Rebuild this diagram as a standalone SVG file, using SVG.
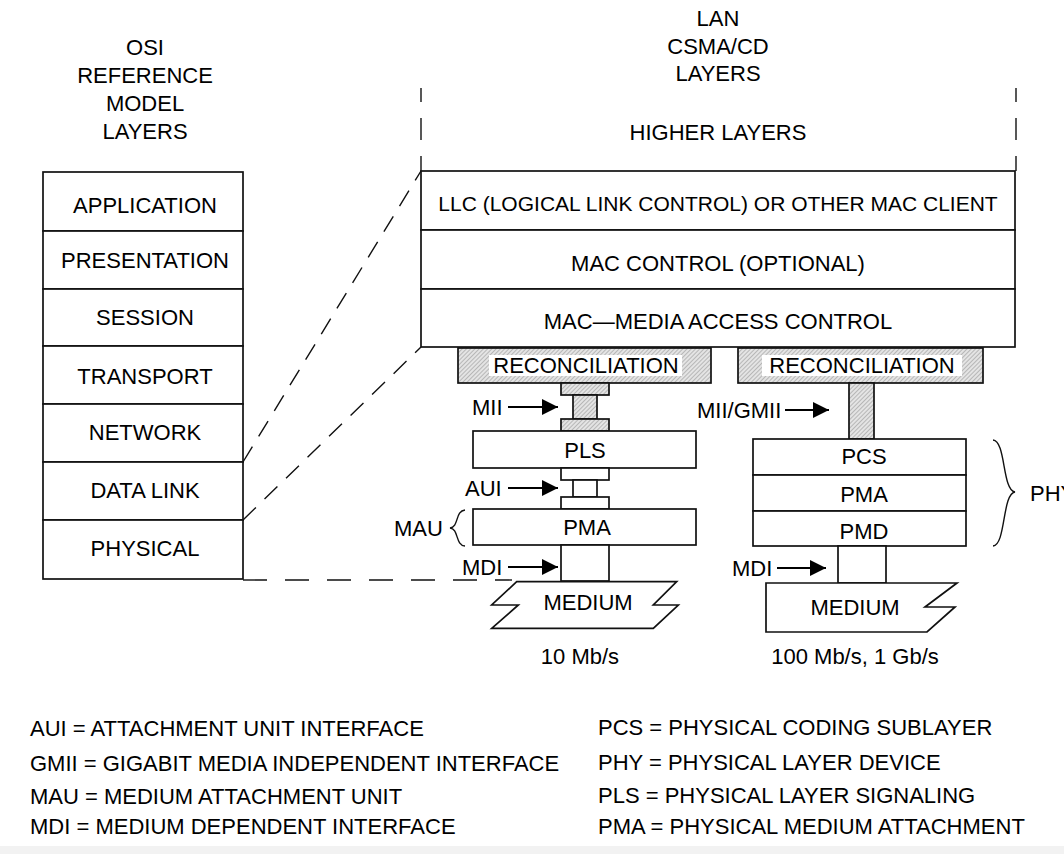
<svg xmlns="http://www.w3.org/2000/svg" width="1064" height="854" viewBox="0 0 1064 854">
<defs>
<pattern id="hatch" patternUnits="userSpaceOnUse" width="3" height="3" patternTransform="rotate(45)">
<rect width="3" height="3" fill="#e4e4e4"/>
<line x1="0" y1="0" x2="0" y2="3" stroke="#8a8a8a" stroke-width="1"/>
</pattern>
<marker id="arr" markerUnits="userSpaceOnUse" markerWidth="18" markerHeight="18" refX="16" refY="8" orient="auto">
<path d="M0,0 L16,8 L0,16 Z" fill="#000"/>
</marker>
</defs>
<style>
text{font-family:"Liberation Sans",Arial,sans-serif;font-size:22px;fill:#000}
.c{text-anchor:middle;dominant-baseline:central}
.l{dominant-baseline:central}
.box{fill:#fff;stroke:#111;stroke-width:1.7}
.hb{fill:url(#hatch);stroke:#111;stroke-width:1.7}
.dash{fill:none;stroke:#111;stroke-width:1.4;stroke-dasharray:18 12}
.arrow{stroke:#000;stroke-width:1.8;fill:none;marker-end:url(#arr)}
.thin{fill:none;stroke:#111;stroke-width:1.4}
</style>
<rect width="1064" height="854" fill="#fff"/>
<rect x="0" y="846" width="1064" height="8" fill="#f2f2f2"/>

<g id="titles">
<text class="c" x="145" y="47">OSI</text>
<text class="c" x="145" y="75">REFERENCE</text>
<text class="c" x="145" y="103">MODEL</text>
<text class="c" x="145" y="131">LAYERS</text>
<text class="c" x="718" y="18">LAN</text>
<text class="c" x="718" y="46">CSMA/CD</text>
<text class="c" x="718" y="73">LAYERS</text>
<text class="c" x="718" y="132">HIGHER LAYERS</text>
</g>

<g id="osi-stack">
<g id="osi-application"><rect class="box" x="43" y="172" width="200" height="59"/><text class="c" x="145" y="205">APPLICATION</text></g>
<g id="osi-presentation"><rect class="box" x="43" y="231" width="200" height="58"/><text class="c" x="145" y="260">PRESENTATION</text></g>
<g id="osi-session"><rect class="box" x="43" y="289" width="200" height="57"/><text class="c" x="145" y="317">SESSION</text></g>
<g id="osi-transport"><rect class="box" x="43" y="346" width="200" height="58"/><text class="c" x="145" y="376">TRANSPORT</text></g>
<g id="osi-network"><rect class="box" x="43" y="404" width="200" height="58"/><text class="c" x="145" y="432">NETWORK</text></g>
<g id="osi-datalink"><rect class="box" x="43" y="462" width="200" height="58"/><text class="c" x="145" y="490">DATA LINK</text></g>
<g id="osi-physical"><rect class="box" x="43" y="520" width="200" height="59"/><text class="c" x="145" y="548">PHYSICAL</text></g>
</g>

<g id="connectors">
<line class="thin" x1="421" y1="88" x2="421" y2="102"/>
<line class="thin" x1="421" y1="118" x2="421" y2="140"/>
<line class="thin" x1="421" y1="156" x2="421" y2="171"/>
<line class="thin" x1="1016" y1="88" x2="1016" y2="102"/>
<line class="thin" x1="1016" y1="118" x2="1016" y2="140"/>
<line class="thin" x1="1016" y1="156" x2="1016" y2="171"/>
<line class="dash" x1="243" y1="462" x2="421" y2="171"/>
<line class="dash" x1="243" y1="520" x2="421" y2="347"/>
<line class="dash" x1="243" y1="580" x2="512" y2="580" style="stroke-dasharray:24 18"/>
<line class="arrow" x1="508" y1="407" x2="558" y2="407"/>
<line class="arrow" x1="508" y1="488" x2="558" y2="488"/>
<line class="arrow" x1="508" y1="567" x2="558" y2="567"/>
<line class="arrow" x1="785" y1="410" x2="829" y2="410"/>
<line class="arrow" x1="777" y1="568" x2="826" y2="568"/>
</g>

<g id="llc"><rect class="box" x="421" y="171" width="594" height="59"/><text class="c" x="718" y="203" style="font-size:21px">LLC (LOGICAL LINK CONTROL) OR OTHER MAC CLIENT</text></g>
<g id="mac-control"><rect class="box" x="421" y="230" width="594" height="59"/><text class="c" x="718" y="263">MAC CONTROL (OPTIONAL)</text></g>
<g id="mac"><rect class="box" x="421" y="289" width="594" height="58"/><text class="c" x="718" y="321">MAC—MEDIA ACCESS CONTROL</text></g>

<g id="reconciliation-10">
<rect class="hb" x="458" y="348" width="253" height="35"/>
<rect x="489" y="355" width="193" height="21" fill="#fff"/>
<text class="c" x="586" y="365">RECONCILIATION</text>
</g>
<g id="mii">
<rect class="hb" x="561" y="383" width="48" height="12"/>
<rect class="hb" x="573" y="395" width="24" height="24"/>
<rect class="hb" x="561" y="419" width="48" height="12"/>
<text class="l" x="472" y="407">MII</text>
</g>
<g id="pls"><rect class="box" x="473" y="431" width="223" height="37"/><text class="c" x="585" y="450">PLS</text></g>
<g id="aui">
<rect class="box" x="561" y="468" width="48" height="12"/>
<rect class="box" x="573" y="480" width="24" height="17"/>
<rect class="box" x="561" y="497" width="48" height="12"/>
<text class="l" x="465" y="488">AUI</text>
</g>
<g id="pma-10"><rect class="box" x="473" y="509" width="223" height="36"/><text class="c" x="587" y="527">PMA</text>
<path class="thin" d="M465,510 C455,511 459,527 450,528 C459,529 455,545 465,546"/>
<text class="l" x="394" y="528">MAU</text>
</g>
<g id="mdi-10"><rect class="box" x="561" y="545" width="48" height="36"/><text class="l" x="462" y="567">MDI</text></g>
<g id="medium-10">
<path class="box" d="M516.7,581.7 L676.7,581.7 L653.3,605 L678.3,605 L653.3,628.3 L491.7,628.3 L518.3,605 L491.7,605 Z"/>
<text class="c" x="588" y="602">MEDIUM</text>
<text class="c" x="580" y="656">10 Mb/s</text>
</g>

<g id="reconciliation-100">
<rect class="hb" x="738" y="348" width="245" height="35"/>
<rect x="762" y="355" width="200" height="21" fill="#fff"/>
<text class="c" x="862" y="365">RECONCILIATION</text>
</g>
<g id="gmii">
<rect class="hb" x="849" y="383" width="25" height="56"/>
<text class="l" x="697" y="410">MII/GMII</text>
</g>
<g id="pcs"><rect class="box" x="753" y="439" width="213" height="36"/><text class="c" x="864" y="456">PCS</text></g>
<g id="pma-100"><rect class="box" x="753" y="475" width="213" height="36"/><text class="c" x="864" y="494">PMA</text></g>
<g id="pmd"><rect class="box" x="753" y="511" width="213" height="35"/><text class="c" x="864" y="531">PMD</text></g>
<g id="phy">
<path class="thin" d="M993,440 C1006,441 1002,490 1015,492 C1002,494 1006,545 993,546"/>
<text class="l" x="1030" y="493">PHY</text>
</g>
<g id="mdi-100"><rect class="box" x="838" y="546" width="48" height="37"/><text class="l" x="732" y="568">MDI</text></g>
<g id="medium-100">
<path class="box" d="M766,583 L957,583 L925,607 L955,607 L927,632 L766,632 Z"/>
<text class="c" x="855" y="607">MEDIUM</text>
<text class="c" x="855" y="656">100 Mb/s, 1 Gb/s</text>
</g>

<g id="legend">
<text class="l" x="30" y="728">AUI = ATTACHMENT UNIT INTERFACE</text>
<text class="l" x="30" y="763">GMII = GIGABIT MEDIA INDEPENDENT INTERFACE</text>
<text class="l" x="30" y="796">MAU = MEDIUM ATTACHMENT UNIT</text>
<text class="l" x="30" y="826">MDI = MEDIUM DEPENDENT INTERFACE</text>
<text class="l" x="598" y="727">PCS = PHYSICAL CODING SUBLAYER</text>
<text class="l" x="598" y="762">PHY = PHYSICAL LAYER DEVICE</text>
<text class="l" x="598" y="795">PLS = PHYSICAL LAYER SIGNALING</text>
<text class="l" x="598" y="826">PMA = PHYSICAL MEDIUM ATTACHMENT</text>
</g>
</svg>
